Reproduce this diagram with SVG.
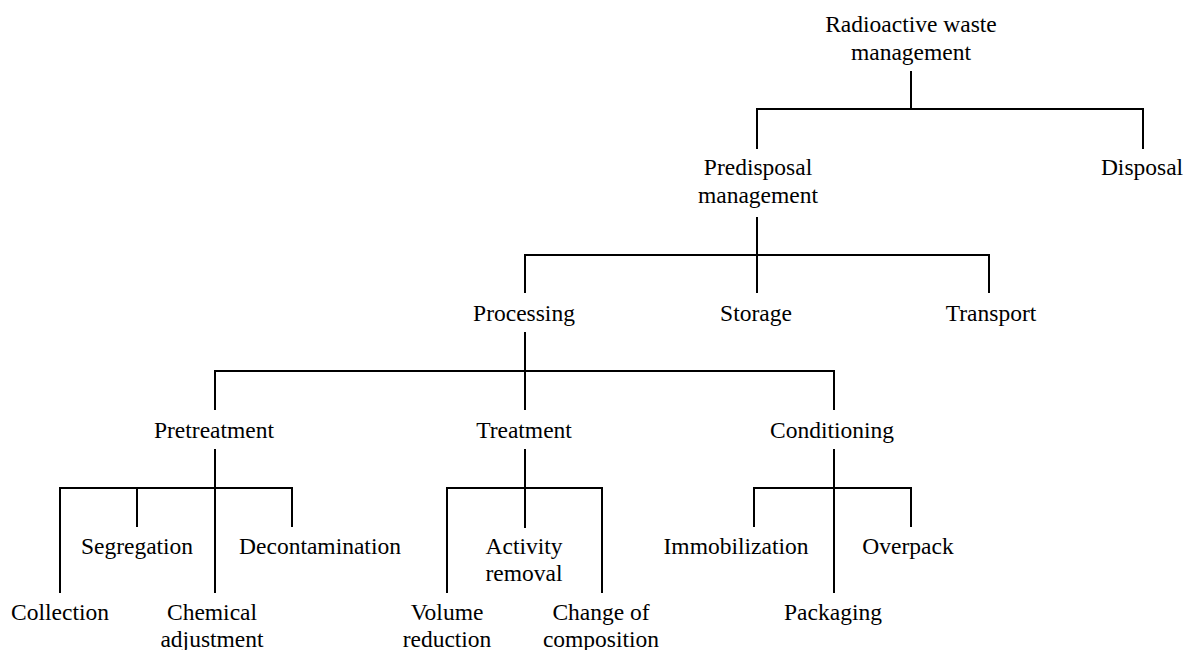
<svg xmlns="http://www.w3.org/2000/svg" width="1187" height="650" viewBox="0 0 1187 650">
<style>
text{font-family:"Liberation Serif","Times New Roman",serif;font-size:23.5px;fill:#000;text-anchor:middle}
.c{fill:none;stroke:#000;stroke-width:2;stroke-linecap:butt}
</style>
<rect width="1187" height="650" fill="#fff"/>
<g id="connectors" class="c">
<path d="M911 71V109M757 149V109H1143V149"/>
<path d="M757 217V255M525 293V255H989V293M757 255V293"/>
<path d="M525 332V371M215 410V371H834V410M525 371V410"/>
<path d="M215 449V488M60 593V488H292V527M137 488V527M215 488V593"/>
<path d="M525 449V488M447 593V488H602V593M525 488V528"/>
<path d="M834 449V488M754 527V488H911V527M834 488V593"/>
</g>
<g id="n-root"><text x="911" y="32">Radioactive waste</text><text x="911" y="60">management</text></g>
<g id="n-predisposal"><text x="758" y="175">Predisposal</text><text x="758" y="203">management</text></g>
<g id="n-disposal"><text x="1142" y="175">Disposal</text></g>
<g id="n-processing"><text x="524" y="321">Processing</text></g>
<g id="n-storage"><text x="756" y="321">Storage</text></g>
<g id="n-transport"><text x="991" y="321">Transport</text></g>
<g id="n-pretreatment"><text x="214" y="438">Pretreatment</text></g>
<g id="n-treatment"><text x="524" y="438">Treatment</text></g>
<g id="n-conditioning"><text x="832" y="438">Conditioning</text></g>
<g id="n-segregation"><text x="137" y="554">Segregation</text></g>
<g id="n-decontamination"><text x="320" y="554">Decontamination</text></g>
<g id="n-activity"><text x="524" y="554">Activity</text><text x="524" y="581">removal</text></g>
<g id="n-immobilization"><text x="736" y="554">Immobilization</text></g>
<g id="n-overpack"><text x="908" y="554">Overpack</text></g>
<g id="n-collection"><text x="60" y="620">Collection</text></g>
<g id="n-chemical"><text x="212" y="620">Chemical</text><text x="212" y="647">adjustment</text></g>
<g id="n-volume"><text x="447" y="620">Volume</text><text x="447" y="647">reduction</text></g>
<g id="n-change"><text x="601" y="620">Change of</text><text x="601" y="647">composition</text></g>
<g id="n-packaging"><text x="833" y="620">Packaging</text></g>
</svg>
